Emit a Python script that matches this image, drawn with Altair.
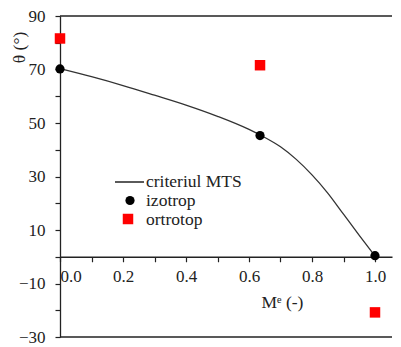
import altair as alt
import pandas as pd

# ---- data ----
mts_me = [0.0, 0.1, 0.2, 0.3, 0.4, 0.5, 0.6, 0.65, 0.7, 0.75, 0.8, 0.85, 0.9, 0.95, 1.0]
mts_theta = [70.3, 67.3, 64.0, 60.4, 56.7, 52.5, 47.6, 44.6, 41.1, 36.4, 30.6, 23.8, 15.9, 8.0, 0.3]

izo_me = [0.0, 0.635, 1.0]
izo_theta = [70.2, 45.3, 0.4]

orto_me = [0.0, 0.635, 1.0]
orto_theta = [81.6, 71.6, -20.8]

legend_labels = ["criteriul MTS", "izotrop", "ortrotop"]

x_ticks = [0.0, 0.1, 0.2, 0.3, 0.4, 0.5, 0.6, 0.7, 0.8, 0.9, 1.0]
y_ticks = [-30, -20, -10, 0, 10, 20, 30, 40, 50, 60, 70, 80, 90]

W, H = 332, 321
X_MAX = W / 315.0
FONT = "Liberation Serif, Times New Roman, serif"
INK = "#222222"

mts = pd.DataFrame({"me": mts_me, "theta": mts_theta})
izo = pd.DataFrame({"me": izo_me, "theta": izo_theta})
orto = pd.DataFrame({"me": orto_me, "theta": orto_theta})
one = pd.DataFrame({"k": [0]})

# the bottom axis is moved up onto the y = 0 line
x_axis = alt.Axis(
    values=x_ticks, format=".1f",
    labelExpr="round(datum.value*10) % 2 == 0 ? datum.label : ''",
    offset=-(H - H * 90 / 120), grid=False, tickSize=5, labelPadding=7,
    title="Mᵉ (-)", titleX=222, titleY=46, titleBaseline="middle",
    titleAlign="center", titleFontWeight="normal",
)
y_axis = alt.Axis(
    values=y_ticks,
    labelExpr="abs(datum.value % 20) == 10 ? datum.label : ''",
    grid=False, tickSize=5, labelPadding=10,
    title="θ (°)", titleX=-41, titleY=31, titleAngle=270,
    titleBaseline="middle", titleAlign="center", titleFontWeight="normal",
)

X = alt.X("me:Q", scale=alt.Scale(domain=[0, X_MAX], nice=False), axis=x_axis)
Y = alt.Y("theta:Q", scale=alt.Scale(domain=[-30, 90], nice=False), axis=y_axis)

line = alt.Chart(mts).mark_line(color="#333333", strokeWidth=1.3, interpolate="monotone").encode(x=X, y=Y)
pts_izo = alt.Chart(izo).mark_circle(color="black", size=85, opacity=1).encode(x=X, y=Y)
pts_orto = alt.Chart(orto).mark_square(color="#ff0000", size=110, opacity=1).encode(x=X, y=Y)

# frame lines (top and bottom)
frame_top = alt.Chart(one).mark_rule(color=INK, strokeWidth=1.5).encode(
    x=alt.value(0), x2=alt.value(W), y=alt.value(0))
frame_bot = alt.Chart(one).mark_rule(color=INK, strokeWidth=1.5).encode(
    x=alt.value(0), x2=alt.value(W), y=alt.value(H))

# legend
leg_line = alt.Chart(one).mark_rule(color="black", strokeWidth=1.3).encode(
    x=alt.value(55), x2=alt.value(84), y=alt.value(166))
leg_circle = alt.Chart(one).mark_circle(color="black", size=85, opacity=1).encode(
    x=alt.value(70), y=alt.value(184.5))
leg_square = alt.Chart(one).mark_square(color="#ff0000", size=110, opacity=1).encode(
    x=alt.value(68), y=alt.value(203))
leg_texts = [
    alt.Chart(pd.DataFrame({"label": [lbl]})).mark_text(
        align="left", baseline="middle", font=FONT, fontSize=17.5,
        fontWeight="normal", color=INK).encode(
        x=alt.value(86), y=alt.value(yy), text="label:N")
    for lbl, yy in zip(legend_labels, [165.5, 184.5, 203.5])
]

chart = alt.layer(
    frame_top, frame_bot, line, pts_izo, pts_orto,
    leg_line, leg_circle, leg_square, *leg_texts
).properties(
    width=W, height=H,
    autosize=alt.AutoSizeParams(type="none"),
    padding={"left": 52, "top": 8, "right": 1, "bottom": 9},
).configure_view(stroke=None).configure_axis(
    labelFont=FONT, labelFontSize=17, labelColor=INK, labelFontWeight="normal",
    titleFont=FONT, titleFontSize=17.5, titleColor=INK,
    domainColor=INK, domainWidth=1.3, tickColor=INK, tickWidth=1.2,
)

chart.save("out.html", embed_options={"renderer": "svg", "actions": False})
